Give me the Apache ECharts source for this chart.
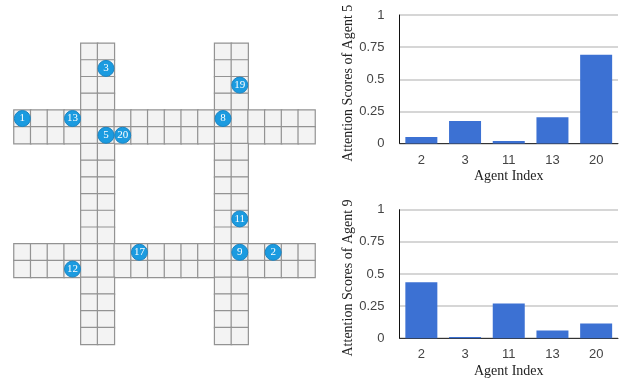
<!DOCTYPE html>
<html>
<head>
<meta charset="utf-8">
<style>
  html, body { margin: 0; padding: 0; background: #fff; }
  #main { width: 636px; height: 379px; }
</style>
<script src="https://cdn.jsdelivr.net/npm/echarts@6/dist/echarts.min.js"></script>
</head>
<body>
<div id="main"></div>
<script>
// road layout on the 18x18 map
const gridSize = 18;
const roadCols = [4, 5, 12, 13];
const roadRows = [4, 5, 12, 13];

// agents: [col, row, id]
const agents = [
  [0, 4, 1], [3, 4, 13], [5, 1, 3], [5, 5, 5], [6, 5, 20],
  [12, 4, 8], [13, 2, 19], [13, 10, 11], [13, 12, 9], [15, 12, 2],
  [7, 12, 17], [3, 13, 12]
];

// attention bars
const agentIndex = ['2', '3', '11', '13', '20'];
const scoresAgent5 = [0.05, 0.175, 0.02, 0.205, 0.69];
const scoresAgent9 = [0.435, 0.01, 0.27, 0.06, 0.115];
const yTicks = { 0: '0', 0.25: '0.25', 0.5: '0.5', 0.75: '0.75', 1: '1' };

const cellIds = [];
for (let i = 0; i < gridSize; i++) cellIds.push(i);

// 路面格子
const roadCells = [];
cellIds.forEach((r) => {
  cellIds.forEach((c) => {
    if (roadCols.includes(c) || roadRows.includes(r)) roadCells.push([c, r, 1]);
  });
});

const serif = '"Liberation Serif", serif';
const sans = '"Liberation Sans", Arial, sans-serif';

const barXAxis = (gridIndex) => ({
  type: 'category',
  gridIndex: gridIndex,
  data: agentIndex,
  name: 'Agent Index',
  nameLocation: 'middle',
  nameGap: 26,
  nameTextStyle: { fontFamily: serif, fontSize: 14, color: '#222' },
  axisTick: { show: false },
  axisLine: { lineStyle: { color: '#333', width: 1 } },
  axisLabel: { fontFamily: sans, fontSize: 13, color: '#444', margin: 10 }
});

const barYAxis = (gridIndex, name) => ({
  type: 'value',
  gridIndex: gridIndex,
  min: 0,
  max: 1,
  interval: 0.25,
  name: name,
  nameLocation: 'middle',
  nameGap: 42,
  nameTextStyle: { fontFamily: serif, fontSize: 14, color: '#222', padding: [0, 8, 0, 0] },
  axisLine: { show: true, lineStyle: { color: '#111', width: 1 } },
  axisTick: { show: false },
  axisLabel: {
    fontFamily: sans, fontSize: 13, color: '#444', margin: 15,
    formatter: (v) => yTicks[v]
  },
  splitLine: { lineStyle: { color: '#c8c8c8', width: 1.5 } }
});

const barSeries = (axisIndex, data) => ({
  type: 'bar',
  xAxisIndex: axisIndex,
  yAxisIndex: axisIndex,
  data: data,
  barWidth: 32,
  itemStyle: { color: '#3c71d3' },
  silent: true
});

const myChart = echarts.init(document.getElementById('main'));

const option = {
  animation: false,
  grid: [
    { left: 14, top: 43.3, width: 301, height: 301, outerBoundsMode: 'none' },
    { left: 399.5, top: 15, width: 218.5, height: 128.5, outerBoundsMode: 'none' },
    { left: 399.5, top: 209.7, width: 218.5, height: 128.5, outerBoundsMode: 'none' }
  ],
  xAxis: [
    { type: 'category', gridIndex: 0, data: cellIds, show: false },
    barXAxis(1),
    barXAxis(2)
  ],
  yAxis: [
    { type: 'category', gridIndex: 0, data: cellIds, inverse: true, show: false },
    barYAxis(1, 'Attention Scores of Agent 5'),
    barYAxis(2, 'Attention Scores of Agent 9')
  ],
  series: [
    {
      type: 'heatmap',
      xAxisIndex: 0,
      yAxisIndex: 0,
      data: roadCells,
      itemStyle: { color: '#f3f3f3', borderColor: '#939393', borderWidth: 1.2 },
      silent: true
    },
    {
      type: 'scatter',
      xAxisIndex: 0,
      yAxisIndex: 0,
      data: agents,
      symbolSize: 16,
      itemStyle: { color: '#1b9be0', borderColor: '#1a85c4', borderWidth: 1, opacity: 1 },
      label: {
        show: true,
        position: 'inside',
        formatter: (p) => String(p.value[2]),
        fontFamily: serif,
        fontSize: 11,
        color: '#fff'
      },
      silent: true,
      z: 5
    },
    barSeries(1, scoresAgent5),
    barSeries(2, scoresAgent9)
  ]
};

myChart.setOption(option);
</script>
</body>
</html>
